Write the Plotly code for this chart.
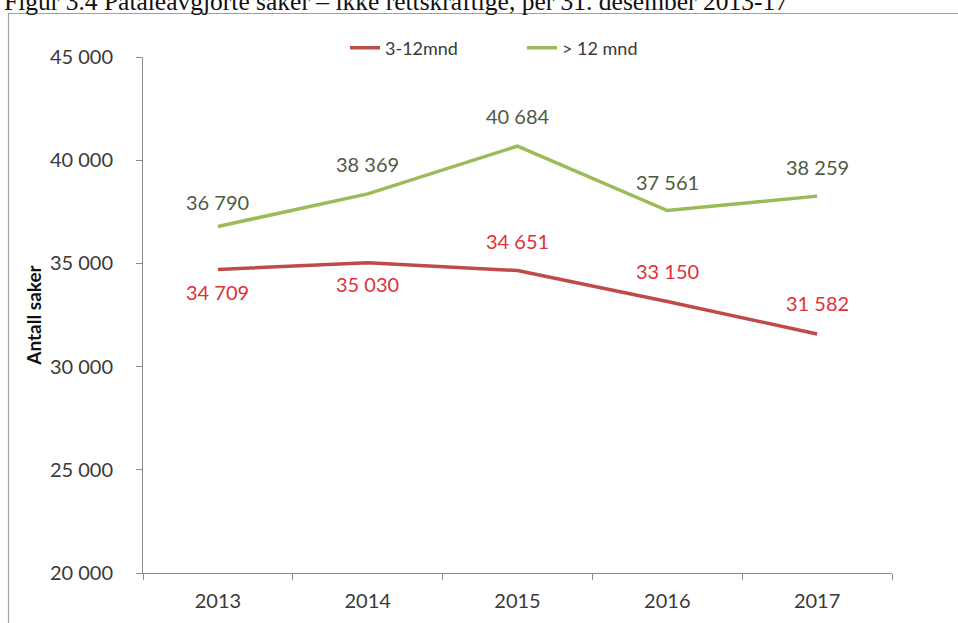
import plotly.graph_objects as go

years = ["2013", "2014", "2015", "2016", "2017"]
series_3_12 = [34709, 35030, 34651, 33150, 31582]
series_12 = [36790, 38369, 40684, 37561, 38259]
labels_3_12 = ["34 709", "35 030", "34 651", "33 150", "31 582"]
labels_12 = ["36 790", "38 369", "40 684", "37 561", "38 259"]
ytick_vals = [20000, 25000, 30000, 35000, 40000, 45000]
ytick_text = ["20 000", "25 000", "30 000", "35 000", "40 000", "45 000"]

RED = "#BE4B48"
GREEN = "#9BBB59"
RED_TXT = "#E0303A"
GREEN_TXT = "#4F5B3F"
AX = "#8C8C8C"
TXT = "#3A3A3A"
FONT = "Lato, 'Open Sans', sans-serif"
FS = 20

W, H = 958, 623
L, R, T, B = 143, 66, 57, 50
pw, ph = W - L - R, H - T - B


def px(x):
    return (x - L) / pw


def py(y):
    return (H - B - y) / ph


fig = go.Figure()
fig.add_trace(go.Scatter(x=years, y=series_3_12, mode="lines", name="3-12mnd",
                         line=dict(color=RED, width=3.5)))
fig.add_trace(go.Scatter(x=years, y=series_12, mode="lines", name="> 12 mnd",
                         line=dict(color=GREEN, width=3.5)))

red_shift = [-23, -21, 30, 31, 31]
green_shift = [24, 30, 30, 29, 29]
for i, yr in enumerate(years):
    fig.add_annotation(x=i, y=series_3_12[i], text=labels_3_12[i], showarrow=False,
                       yshift=red_shift[i], font=dict(family=FONT, size=FS, color=RED_TXT))
    fig.add_annotation(x=i, y=series_12[i], text=labels_12[i], showarrow=False,
                       yshift=green_shift[i], font=dict(family=FONT, size=FS, color=GREEN_TXT))

# Title (partly cut off at top, as in reference)
fig.add_annotation(xref="paper", yref="paper", x=px(2), y=py(18), xanchor="left", yanchor="bottom",
                   text="Figur 3.4 Påtaleavgjorte saker – ikke rettskraftige, per 31. desember 2013-17",
                   showarrow=False, font=dict(family="Liberation Serif", size=25.5, color="#111111"))

# Chart frame
fig.add_shape(type="rect", xref="paper", yref="paper", x0=px(8.5), x1=px(1000), y0=py(700), y1=py(13.5),
              line=dict(color="#A0A0A0", width=1.2), fillcolor="rgba(0,0,0,0)", layer="below")

fig.update_layout(
    width=W, height=H,
    margin=dict(l=L, r=R, t=T, b=B, autoexpand=False),
    paper_bgcolor="white", plot_bgcolor="white",
    showlegend=True,
    legend=dict(orientation="h", x=px(345), xanchor="left", y=py(48), yanchor="middle",
                font=dict(family=FONT, size=18, color=TXT),
                entrywidth=132, entrywidthmode="pixels",
                bgcolor="rgba(0,0,0,0)"),
    font=dict(family=FONT, color=TXT),
)
fig.update_xaxes(type="category", range=[-0.5, 4.5], showline=True, linecolor=AX, linewidth=1,
                 ticks="outside", tickson="boundaries", ticklen=6, tickcolor=AX,
                 ticklabelstandoff=10,
                 showgrid=False, tickfont=dict(family=FONT, size=FS, color=TXT))
fig.update_yaxes(range=[20000, 45000], tickvals=ytick_vals, ticktext=ytick_text,
                 showline=True, linecolor=AX, linewidth=1, ticks="outside", ticklen=6, tickcolor=AX,
                 ticklabelstandoff=19,
                 showgrid=False, zeroline=False, tickfont=dict(family=FONT, size=FS, color=TXT),
                 title=dict(text="<b>Antall saker</b>", font=dict(family=FONT, size=19, color="#111111"),
                            standoff=3))

fig.write_html("out.html", config={"displayModeBar": False},
               post_script="document.body.style.margin='0';")
